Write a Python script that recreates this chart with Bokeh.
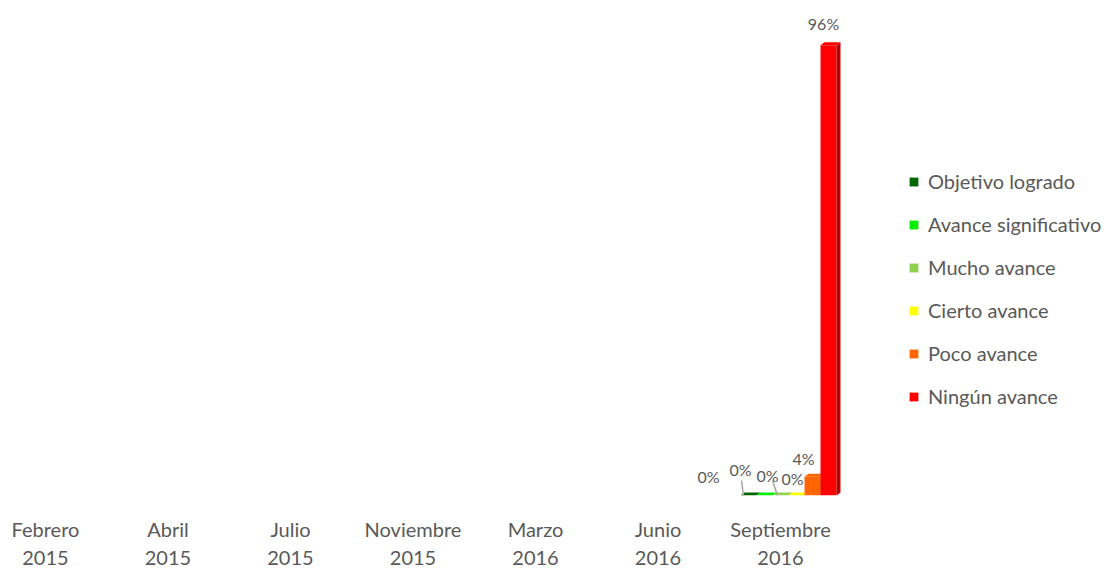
import math
from bokeh.plotting import figure
from bokeh.models import (Range1d, FixedTicker, Legend, LegendItem, ColumnDataSource)
from bokeh.core.properties import value
from bokeh.embed import file_html
from bokeh.resources import INLINE

# ---------------- data ----------------
periods = ["Febrero\n2015", "Abril\n2015", "Julio\n2015", "Noviembre\n2015",
           "Marzo\n2016", "Junio\n2016", "Septiembre\n2016"]
series_names = ["Objetivo logrado", "Avance significativo", "Mucho avance",
                "Cierto avance", "Poco avance", "Ningún avance"]
nan = float("nan")
objetivo_logrado = [nan, nan, nan, nan, nan, nan, 0]
avance_significativo = [nan, nan, nan, nan, nan, nan, 0]
mucho_avance = [nan, nan, nan, nan, nan, nan, 0]
cierto_avance = [nan, nan, nan, nan, nan, nan, 0]
poco_avance = [nan, nan, nan, nan, nan, nan, 4]
ningun_avance = [nan, nan, nan, nan, nan, nan, 96]
series_values = [objetivo_logrado, avance_significativo, mucho_avance,
                 cierto_avance, poco_avance, ningun_avance]

# ---------------- style ----------------
colors = ["#006600", "#00EE00", "#92D050", "#FFFF00", "#FF6600", "#FF0000"]
side_colors = ["#004400", "#00A000", "#6A9A3A", "#C0C000", "#C04C00", "#B80000"]
text_color = "#595959"
FONT = "Lato"
PX_X = 122.5   # pixels per category unit
PX_Y = 4.69    # pixels per percent
bar_w = 16 / PX_X
group_shift = 8 / PX_X
depth_x = 4 / PX_X
depth_y = 3 / PX_Y
# label offsets (px) relative to bar centre / bar top
lab_dx = [-40, -24, -13, -4, -9, -5]
lab_dy = [19, 26, 20, 17, 18, 22]

xs = list(range(len(periods)))

p = figure(frame_width=1112, frame_height=495, output_backend="svg",
           toolbar_location=None,
           x_range=Range1d(-0.367, 8.710), y_range=Range1d(0, 495 / PX_Y),
           min_border_left=0, min_border_right=0, min_border_top=0,
           min_border_bottom=60)
p.outline_line_color = None
p.background_fill_color = "white"
p.border_fill_color = "white"
p.xgrid.visible = False
p.ygrid.visible = False
p.yaxis.visible = False

ax = p.xaxis[0]
ax.ticker = FixedTicker(ticks=xs)
ax.major_label_overrides = {i: periods[i] for i in xs}
ax.axis_line_color = None
ax.major_tick_line_color = None
ax.minor_tick_line_color = None
ax.major_tick_out = 0
ax.major_label_standoff = 21
ax.major_label_text_font = FONT
ax.major_label_text_font_size = "20px"
ax.major_label_text_color = text_color
ax.major_label_text_line_height = 1.2

legend_items = []
label_x, label_y, label_t, lxo, lyo = [], [], [], [], []
for k, (name, vals) in enumerate(zip(series_names, series_values)):
    off = (k - 2.5) * bar_w + group_shift
    bx = [x + off for x in xs]
    src = ColumnDataSource(dict(x=bx, top=vals))
    r = p.vbar(x="x", top="top", bottom=0, width=bar_w, source=src,
               fill_color=colors[k], line_color=None)
    legend_items.append(LegendItem(label=name, renderers=[r]))
    # 3D side and top faces
    side_xs, side_ys, top_xs, top_ys = [], [], [], []
    for x, v in zip(bx, vals):
        if isinstance(v, float) and math.isnan(v):
            continue
        xl, xr = x - bar_w / 2, x + bar_w / 2
        side_xs.append([xr, xr + depth_x, xr + depth_x, xr])
        side_ys.append([0, depth_y, v + depth_y, v])
        top_xs.append([xl, xr, xr + depth_x, xl + depth_x])
        top_ys.append([v, v, v + depth_y, v + depth_y])
        label_x.append(x)
        label_y.append(v)
        label_t.append(f"{v:.0f}%")
        lxo.append(lab_dx[k])
        lyo.append(-lab_dy[k])
    p.patches(side_xs, side_ys, fill_color=side_colors[k], line_color=None)
    p.patches(top_xs, top_ys, fill_color=colors[k], line_color=None)

# leader lines for two of the zero labels
lead = []
for k in (1, 2):
    x = xs[-1] + (k - 2.5) * bar_w + group_shift
    v = series_values[k][-1]
    top_dx = lab_dx[k] + (1 if k == 1 else 5)
    bot_dx = lab_dx[k] + (3 if k == 1 else 10)
    lead.append((x + top_dx / PX_X, v + 15 / PX_Y, x + bot_dx / PX_X, v))
p.segment(x0=[l[0] for l in lead], y0=[l[1] for l in lead],
          x1=[l[2] for l in lead], y1=[l[3] for l in lead],
          line_color="#A6A6A6", line_width=1.5)

p.text(x=label_x, y=label_y, text=label_t, x_offset=lxo, y_offset=lyo,
       text_align="center", text_baseline="middle",
       text_font=value(FONT), text_font_size="16px", text_color=text_color)

legend = Legend(items=legend_items, location=(908, 87))
legend.label_text_font = FONT
legend.label_text_font_size = "20px"
legend.label_text_color = text_color
legend.glyph_width = 11
legend.glyph_height = 11
legend.label_height = 22
legend.label_standoff = 9
legend.spacing = 19
legend.padding = 0
legend.margin = 0
legend.border_line_color = None
legend.background_fill_alpha = 0
p.add_layout(legend, "center")

open("out.html", "w").write(file_html(p, INLINE))
